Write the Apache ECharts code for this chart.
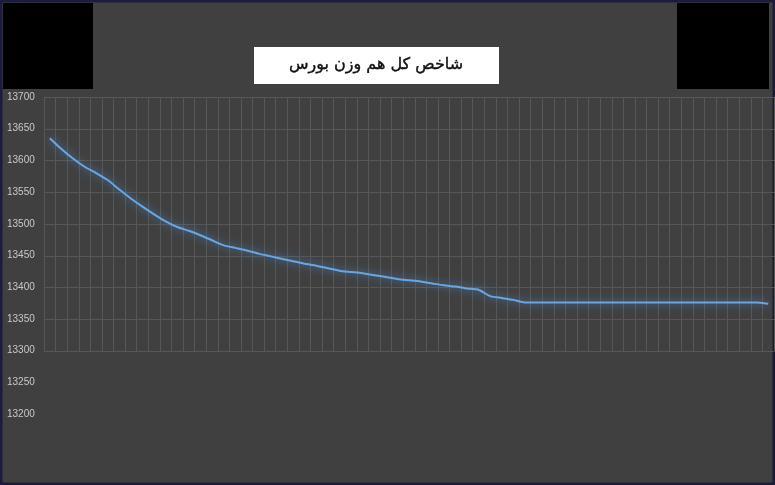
<!DOCTYPE html>
<html>
<head>
<meta charset="utf-8">
<script src="https://cdn.jsdelivr.net/npm/echarts@6/dist/echarts.min.js"></script>
<style>
html,body{margin:0;padding:0;background:#1b1b3d;}
#chart{width:775px;height:485px;}
</style>
</head>
<body>
<div id="chart"></div>
<script>
const titleText = 'شاخص کل هم وزن بورس';
const yTicks = [13200, 13250, 13300, 13350, 13400, 13450, 13500, 13550, 13600, 13650, 13700];
const indexValues = [
  13635, 13618, 13603, 13590, 13580, 13569, 13554, 13540, 13527, 13515,
  13504, 13495, 13489, 13482, 13474, 13466, 13462, 13458, 13453, 13449,
  13445, 13441, 13437, 13434, 13430, 13426, 13424, 13422, 13419, 13416,
  13413, 13411, 13409, 13406, 13403, 13401, 13398, 13396, 13386, 13383,
  13380, 13376, 13376, 13376, 13376, 13376, 13376, 13376, 13376, 13376,
  13376, 13376, 13376, 13376, 13376, 13376, 13376, 13376, 13376, 13376,
  13376, 13376, 13374
];
const categories = indexValues.map((v, i) => String(i + 1));

const chart = echarts.init(document.getElementById('chart'));
const gridColor = '#575757';
chart.setOption({
  backgroundColor: '#404040',
  animation: false,
  grid: [
    { left: 44, right: 1, top: 97, bottom: 71 },
    { left: 44, right: 1, top: 97, bottom: 134 }
  ],
  xAxis: [
    { type: 'category', gridIndex: 0, data: categories, boundaryGap: true,
      axisLine: { show: false }, axisTick: { show: false }, axisLabel: { show: false }, splitLine: { show: false } },
    { type: 'category', gridIndex: 1, data: categories, boundaryGap: true,
      axisLine: { show: false }, axisTick: { show: false }, axisLabel: { show: false },
      splitLine: { show: true, interval: 0, lineStyle: { color: gridColor, width: 1 } } }
  ],
  yAxis: [
    { type: 'value', gridIndex: 0, min: yTicks[0], max: yTicks[yTicks.length - 1], interval: 50,
      axisLine: { show: false }, axisTick: { show: false }, splitLine: { show: false },
      axisLabel: { color: '#c8c8c8', fontSize: 10, fontFamily: 'Liberation Sans', align: 'left', margin: 37,
        formatter: v => String(v) } },
    { type: 'value', gridIndex: 1, min: 13300, max: 13700, interval: 50,
      axisLine: { show: false }, axisTick: { show: false }, axisLabel: { show: false },
      splitLine: { show: true, lineStyle: { color: gridColor, width: 1 } } }
  ],
  series: [{
    type: 'line',
    xAxisIndex: 0, yAxisIndex: 0,
    data: indexValues,
    symbol: 'none',
    smooth: 0.2,
    lineStyle: { color: '#6aa6e0', width: 2, shadowBlur: 8, shadowColor: 'rgba(80,150,230,0.9)' }
  }],
  graphic: [
    { type: 'rect', shape: { x: 1, y: 1, width: 773, height: 483 }, style: { fill: 'none', stroke: '#1b1b3d', lineWidth: 3 } },
    { type: 'rect', shape: { x: 3, y: 3, width: 90, height: 86 }, style: { fill: '#000' } },
    { type: 'rect', shape: { x: 677, y: 3, width: 92, height: 86 }, style: { fill: '#000' } },
    { type: 'rect', shape: { x: 254, y: 47, width: 245, height: 37 }, style: { fill: '#ffffff' } },
    { type: 'text', x: 376, y: 65, style: { text: titleText, fill: '#111', font: '16px "DejaVu Sans"', align: 'center', verticalAlign: 'middle', stroke: '#111', lineWidth: 0.4 } }
  ]
});
</script>
</body>
</html>
